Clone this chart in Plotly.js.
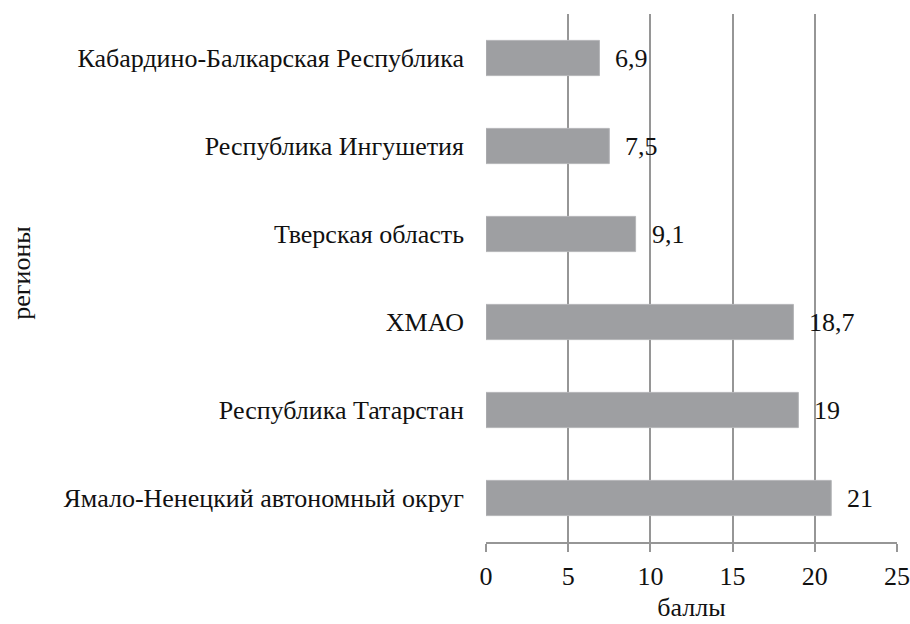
<!DOCTYPE html>
<html>
<head>
<meta charset="utf-8">
<script src="https://cdn.plot.ly/plotly-3.0.1.min.js"></script>
<style>html,body{margin:0;padding:0;background:#fff;}#chart{width:910px;height:624px;}</style>
</head>
<body>
<div id="chart"></div>
<script>
const regions = [
  "Кабардино-Балкарская Республика",
  "Республика Ингушетия",
  "Тверская область",
  "ХМАО",
  "Республика Татарстан",
  "Ямало-Ненецкий автономный округ"
];
const scores = [6.9, 7.5, 9.1, 18.7, 19, 21];
const tickValues = [0, 5, 10, 15, 20, 25];
const xTitle = "баллы";
const yTitle = "регионы";

const FONT = "serif";
const FS = 26;
const TXT = '#111';
const labels = scores.map(v => String(v).replace('.', ','));

const trace = {
  type: 'bar',
  orientation: 'h',
  x: scores,
  y: regions,
  width: 0.4,
  marker: {color: '#9e9fa2', line: {color: '#b4b5b8', width: 1}},
  hoverinfo: 'none'
};

const plotW = 910 - 486 - 13;
const annotations = scores.map((v, i) => ({
  x: v, y: regions[i], xref: 'x', yref: 'y',
  text: labels[i], showarrow: false, xanchor: 'left', xshift: 14,
  font: {family: FONT, size: FS, color: TXT}
}));
annotations.push({
  x: (22 - 486) / plotW, y: 0.51, xref: 'paper', yref: 'paper',
  xanchor: 'center', yanchor: 'middle',
  text: yTitle, textangle: -90, showarrow: false,
  font: {family: FONT, size: FS, color: TXT}
});

const layout = {
  width: 910, height: 624,
  margin: {l: 486, r: 13, t: 14, b: 82},
  paper_bgcolor: '#fff', plot_bgcolor: '#fff',
  showlegend: false,
  xaxis: {
    range: [0, 25], tickvals: tickValues, ticktext: tickValues.map(String),
    showgrid: true, gridcolor: '#969696', gridwidth: 2,
    zeroline: false,
    showline: true, linecolor: '#969696', linewidth: 2,
    ticks: 'outside', ticklen: 8, tickcolor: '#969696', tickwidth: 2,
    ticklabelstandoff: 2, ticklabeloverflow: 'allow',
    tickfont: {family: FONT, size: FS, color: TXT},
    title: {text: xTitle, font: {family: FONT, size: FS, color: TXT}, standoff: 8},
    fixedrange: true
  },
  yaxis: {
    autorange: 'reversed', type: 'category',
    showgrid: false, zeroline: false, showline: false,
    ticks: '', ticklabelstandoff: 21,
    tickfont: {family: FONT, size: FS, color: TXT},
    fixedrange: true
  },
  annotations: annotations
};

Plotly.newPlot('chart', [trace], layout, {staticPlot: true});
</script>
</body>
</html>
